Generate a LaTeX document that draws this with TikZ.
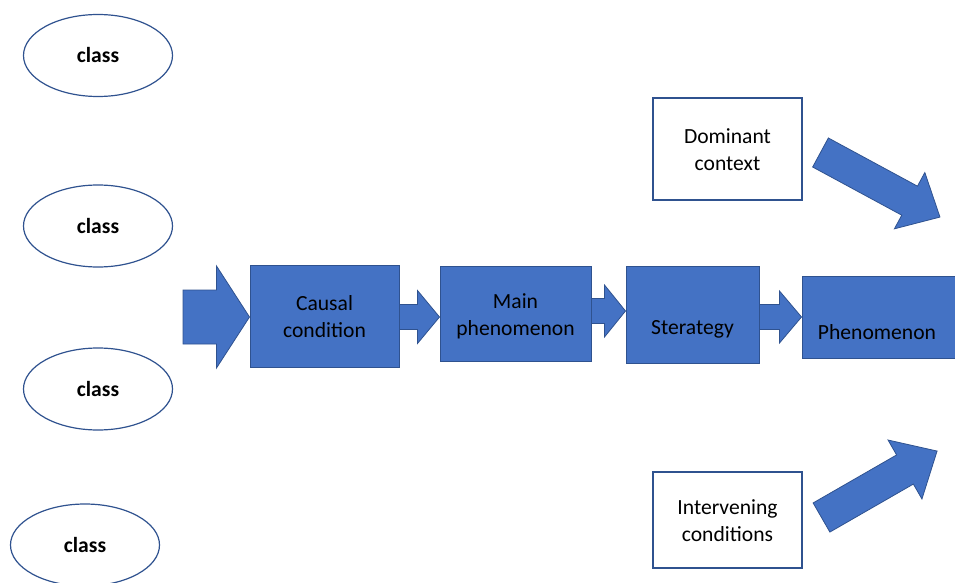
\documentclass[tikz,border=0pt]{standalone}
\usepackage{fontspec}
\setmainfont{Carlito}
\usetikzlibrary{shapes.geometric,calc}
\definecolor{fillblue}{HTML}{4472C4}
\definecolor{edgeblue}{HTML}{2F528F}
\newcommand\boxfont{\fontsize{21.6}{27}\selectfont}
\newcommand\classfont{\fontsize{21.6}{27}\selectfont\bfseries}
\tikzset{
  bluebox/.style={rectangle, draw=edgeblue, fill=fillblue, line width=1pt, inner sep=0pt, align=center, font=\boxfont, text=black},
  whitebox/.style={rectangle, draw=edgeblue, fill=white, line width=1.2pt, inner sep=0pt, align=center, font=\boxfont, text=black},
  classnode/.style={ellipse, draw=edgeblue, line width=1.2pt, minimum width=149pt, minimum height=82pt, inner sep=0pt, font=\classfont, text=black},
  blockarrow/.style={fill=fillblue, draw=edgeblue, line width=0.8pt, line join=miter},
  inlabel/.style={font=\boxfont, text=black, align=center},
}
% horizontal block arrow: from anchor, to anchor, centre y, shaft half, head half, head length
\newcommand\harrow[6]{%
  \coordinate (ha) at (#1 |- 0,#3);
  \coordinate (hb) at (#2 |- 0,#3);
  \path[blockarrow] ($(ha)+(0,-#4)$) -- ($(hb)+(-#6,-#4)$) -- ($(hb)+(-#6,-#5)$) -- (hb)
    -- ($(hb)+(-#6,#5)$) -- ($(hb)+(-#6,#4)$) -- ($(ha)+(0,#4)$) -- cycle;
}
% slanted block arrow: start midpoint x, y, angle, shaft length, head length, shaft half, head half
\newcommand\sarrow[7]{%
  \path[blockarrow, shift={(#1,#2)}, rotate=#3]
    (0,-#6) -- (#4,-#6) -- (#4,-#7) -- (#4+#5,0) -- (#4,#7) -- (#4,#6) -- (0,#6) -- cycle;
}
\begin{document}
\begin{tikzpicture}[x=1pt, y=-1pt]
\useasboundingbox (0,0) rectangle (955,583);

% ellipses
\node[classnode] (c1) at (98,55.5) {class};
\node[classnode] (c2) at (98,226) {class};
\node[classnode] (c3) at (98,389) {class};
\node[classnode] (c4) at (85,545) {class};

% main chain boxes
\node[bluebox, minimum width=149pt, minimum height=102pt,
      label={[inlabel, yshift=-1pt]center:Causal\\condition}] (cc) at (324.5,316) {};
\node[bluebox, minimum width=151pt, minimum height=95pt,
      label={[inlabel, yshift=-2.5pt]center:Main\\phenomenon}] (mp) at (515.5,313.5) {};
\node[bluebox, minimum width=133pt, minimum height=97pt,
      label={[inlabel, yshift=-15pt]center:Sterategy}] (st) at (692.5,314.5) {};
\node[bluebox, minimum width=160pt, minimum height=82pt,
      label={[inlabel, yshift=-15pt, xshift=-5pt]center:Phenomenon}] (ph) at (882,317) {};

% side boxes
\node[whitebox, minimum width=149pt, minimum height=102pt,
      label={[inlabel, yshift=-1pt]center:Dominant\\context}] (dc) at (727.5,149) {};
\node[whitebox, minimum width=149pt, minimum height=96pt,
      label={[inlabel, yshift=-1pt]center:Intervening\\conditions}] (ic) at (727.5,520) {};

% horizontal block arrows
\coordinate (in) at (183,317);
\harrow{in}{cc.west}{317}{27}{51}{33}
\harrow{cc.east}{mp.west}{317}{12.5}{26.5}{22}
\harrow{mp.east}{st.west}{311}{12.5}{26}{21}
\harrow{st.east}{ph.west}{317}{12.5}{26}{22}

% slanted block arrows
\sarrow{820.5}{152.5}{-28.4}{101.3}{34.5}{16.5}{32}
\sarrow{821.5}{517.5}{29.9}{96.3}{37}{16.8}{34}
\end{tikzpicture}
\end{document}
